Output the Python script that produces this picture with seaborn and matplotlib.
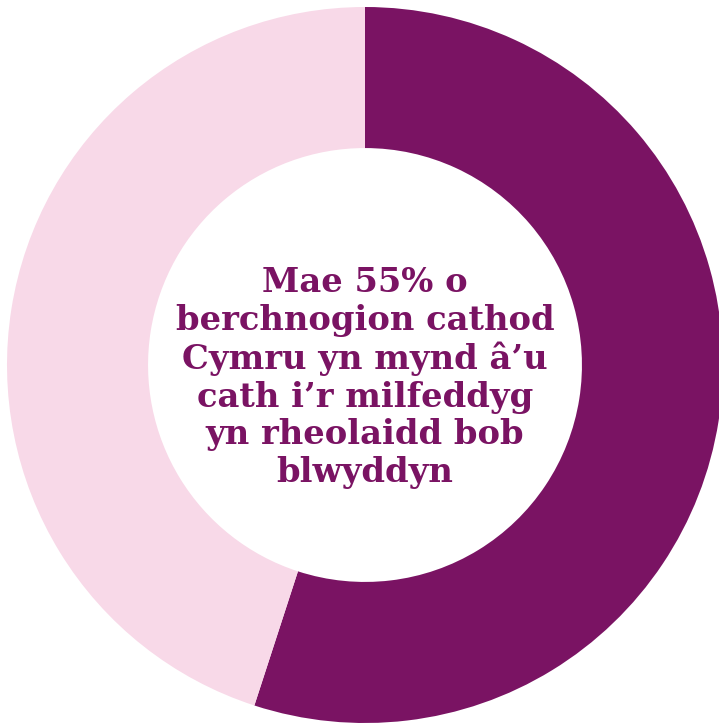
import matplotlib
matplotlib.use("Agg")
import matplotlib.pyplot as plt
import seaborn as sns

# data
labels = ["Yn mynd i'r milfeddyg", "Ddim yn mynd"]
shares = [55, 45]
colours = ["#7a1363", "#f8d9e8"]
caption = ("Mae 55% o\nberchnogion cathod\nCymru yn mynd \u00e2\u2019u\n"
           "cath i\u2019r milfeddyg\nyn rheolaidd bob\nblwyddyn")

sns.set_theme(style="white")
plt.rcParams['font.family'] = ['DejaVu Serif', 'DejaVu Sans']

W, H = 719, 724
cx, cy, R = 365, 365, 358

fig = plt.figure(figsize=(W / 100, H / 100), dpi=100)
ax = fig.add_axes([0, 0, 1, 1])

ax.pie(shares, colors=colours, startangle=90, counterclock=False,
       radius=1, wedgeprops=dict(width=0.394, linewidth=0))

ax.set_xlim(-cx / R, (W - cx) / R)
ax.set_ylim(-(H - cy) / R, cy / R)
ax.set_aspect('auto')
ax.axis('off')

ax.text(0, -0.035, caption, ha='center', va='center', fontsize=24.3,
        fontweight='bold', color=colours[0], linespacing=1.18)

fig.savefig("out.png", dpi=100, facecolor="white")
